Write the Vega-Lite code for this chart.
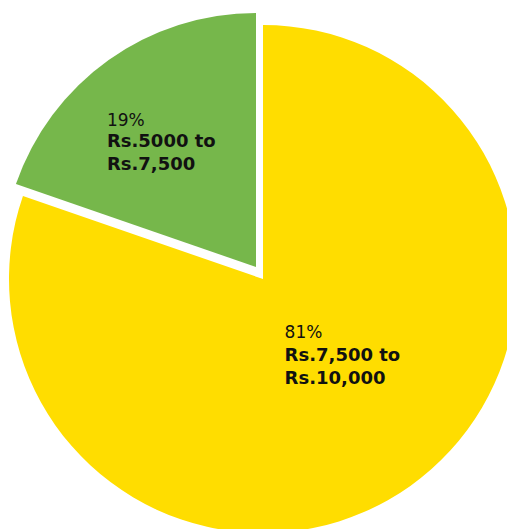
{
  "$schema": "https://vega.github.io/schema/vega-lite/v6.json",
  "autosize": "none",
  "width": 488,
  "height": 500,
  "padding": {"left": 19, "top": 29, "right": 0, "bottom": 0},
  "background": "white",
  "view": {"stroke": null},
  "data": {
    "values": [
      {"range": "Rs.7,500 to Rs.10,000", "share": 80.3, "pct": "81%", "l1": "Rs.7,500 to", "l2": "Rs.10,000"},
      {"range": "Rs.5000 to Rs.7,500", "share": 19.7, "pct": "19%", "l1": "Rs.5000 to", "l2": "Rs.7,500"}
    ]
  },
  "encoding": {
    "theta": {"field": "share", "type": "quantitative", "stack": true},
    "order": {"field": "share", "type": "quantitative", "sort": "descending"}
  },
  "layer": [
    {
      "mark": {"type": "arc", "outerRadius": 254, "fill": "#FFDD00", "stroke": null},
      "encoding": {
        "opacity": {"condition": {"test": "datum.share > 50", "value": 1}, "value": 0}
      }
    },
    {
      "mark": {"type": "arc", "outerRadius": 254, "fill": "#76B74B", "stroke": null, "xOffset": -7, "yOffset": -12},
      "encoding": {
        "opacity": {"condition": {"test": "datum.share < 50", "value": 1}, "value": 0}
      }
    },
    {
      "mark": {"type": "text", "radius": 70, "dx": -19, "dy": 2, "align": "left", "baseline": "alphabetic", "font": "DejaVu Sans", "fontSize": 17, "fontWeight": "normal", "color": "#111111"},
      "encoding": {"text": {"condition": {"test": "datum.share > 50", "field": "pct"}, "value": ""}}
    },
    {
      "mark": {"type": "text", "radius": 70, "dx": -19, "dy": 25, "align": "left", "baseline": "alphabetic", "font": "DejaVu Sans", "fontSize": 18, "fontWeight": "bold", "color": "#111111"},
      "encoding": {"text": {"condition": {"test": "datum.share > 50", "field": "l1"}, "value": ""}}
    },
    {
      "mark": {"type": "text", "radius": 70, "dx": -19, "dy": 48, "align": "left", "baseline": "alphabetic", "font": "DejaVu Sans", "fontSize": 18, "fontWeight": "bold", "color": "#111111"},
      "encoding": {"text": {"condition": {"test": "datum.share > 50", "field": "l2"}, "value": ""}}
    },
    {
      "mark": {"type": "text", "radius": 188, "dx": -47, "dy": 0, "align": "left", "baseline": "alphabetic", "font": "DejaVu Sans", "fontSize": 17, "fontWeight": "normal", "color": "#111111"},
      "encoding": {"text": {"condition": {"test": "datum.share < 50", "field": "pct"}, "value": ""}}
    },
    {
      "mark": {"type": "text", "radius": 188, "dx": -47, "dy": 21, "align": "left", "baseline": "alphabetic", "font": "DejaVu Sans", "fontSize": 18, "fontWeight": "bold", "color": "#111111"},
      "encoding": {"text": {"condition": {"test": "datum.share < 50", "field": "l1"}, "value": ""}}
    },
    {
      "mark": {"type": "text", "radius": 188, "dx": -47, "dy": 44, "align": "left", "baseline": "alphabetic", "font": "DejaVu Sans", "fontSize": 18, "fontWeight": "bold", "color": "#111111"},
      "encoding": {"text": {"condition": {"test": "datum.share < 50", "field": "l2"}, "value": ""}}
    }
  ]
}
